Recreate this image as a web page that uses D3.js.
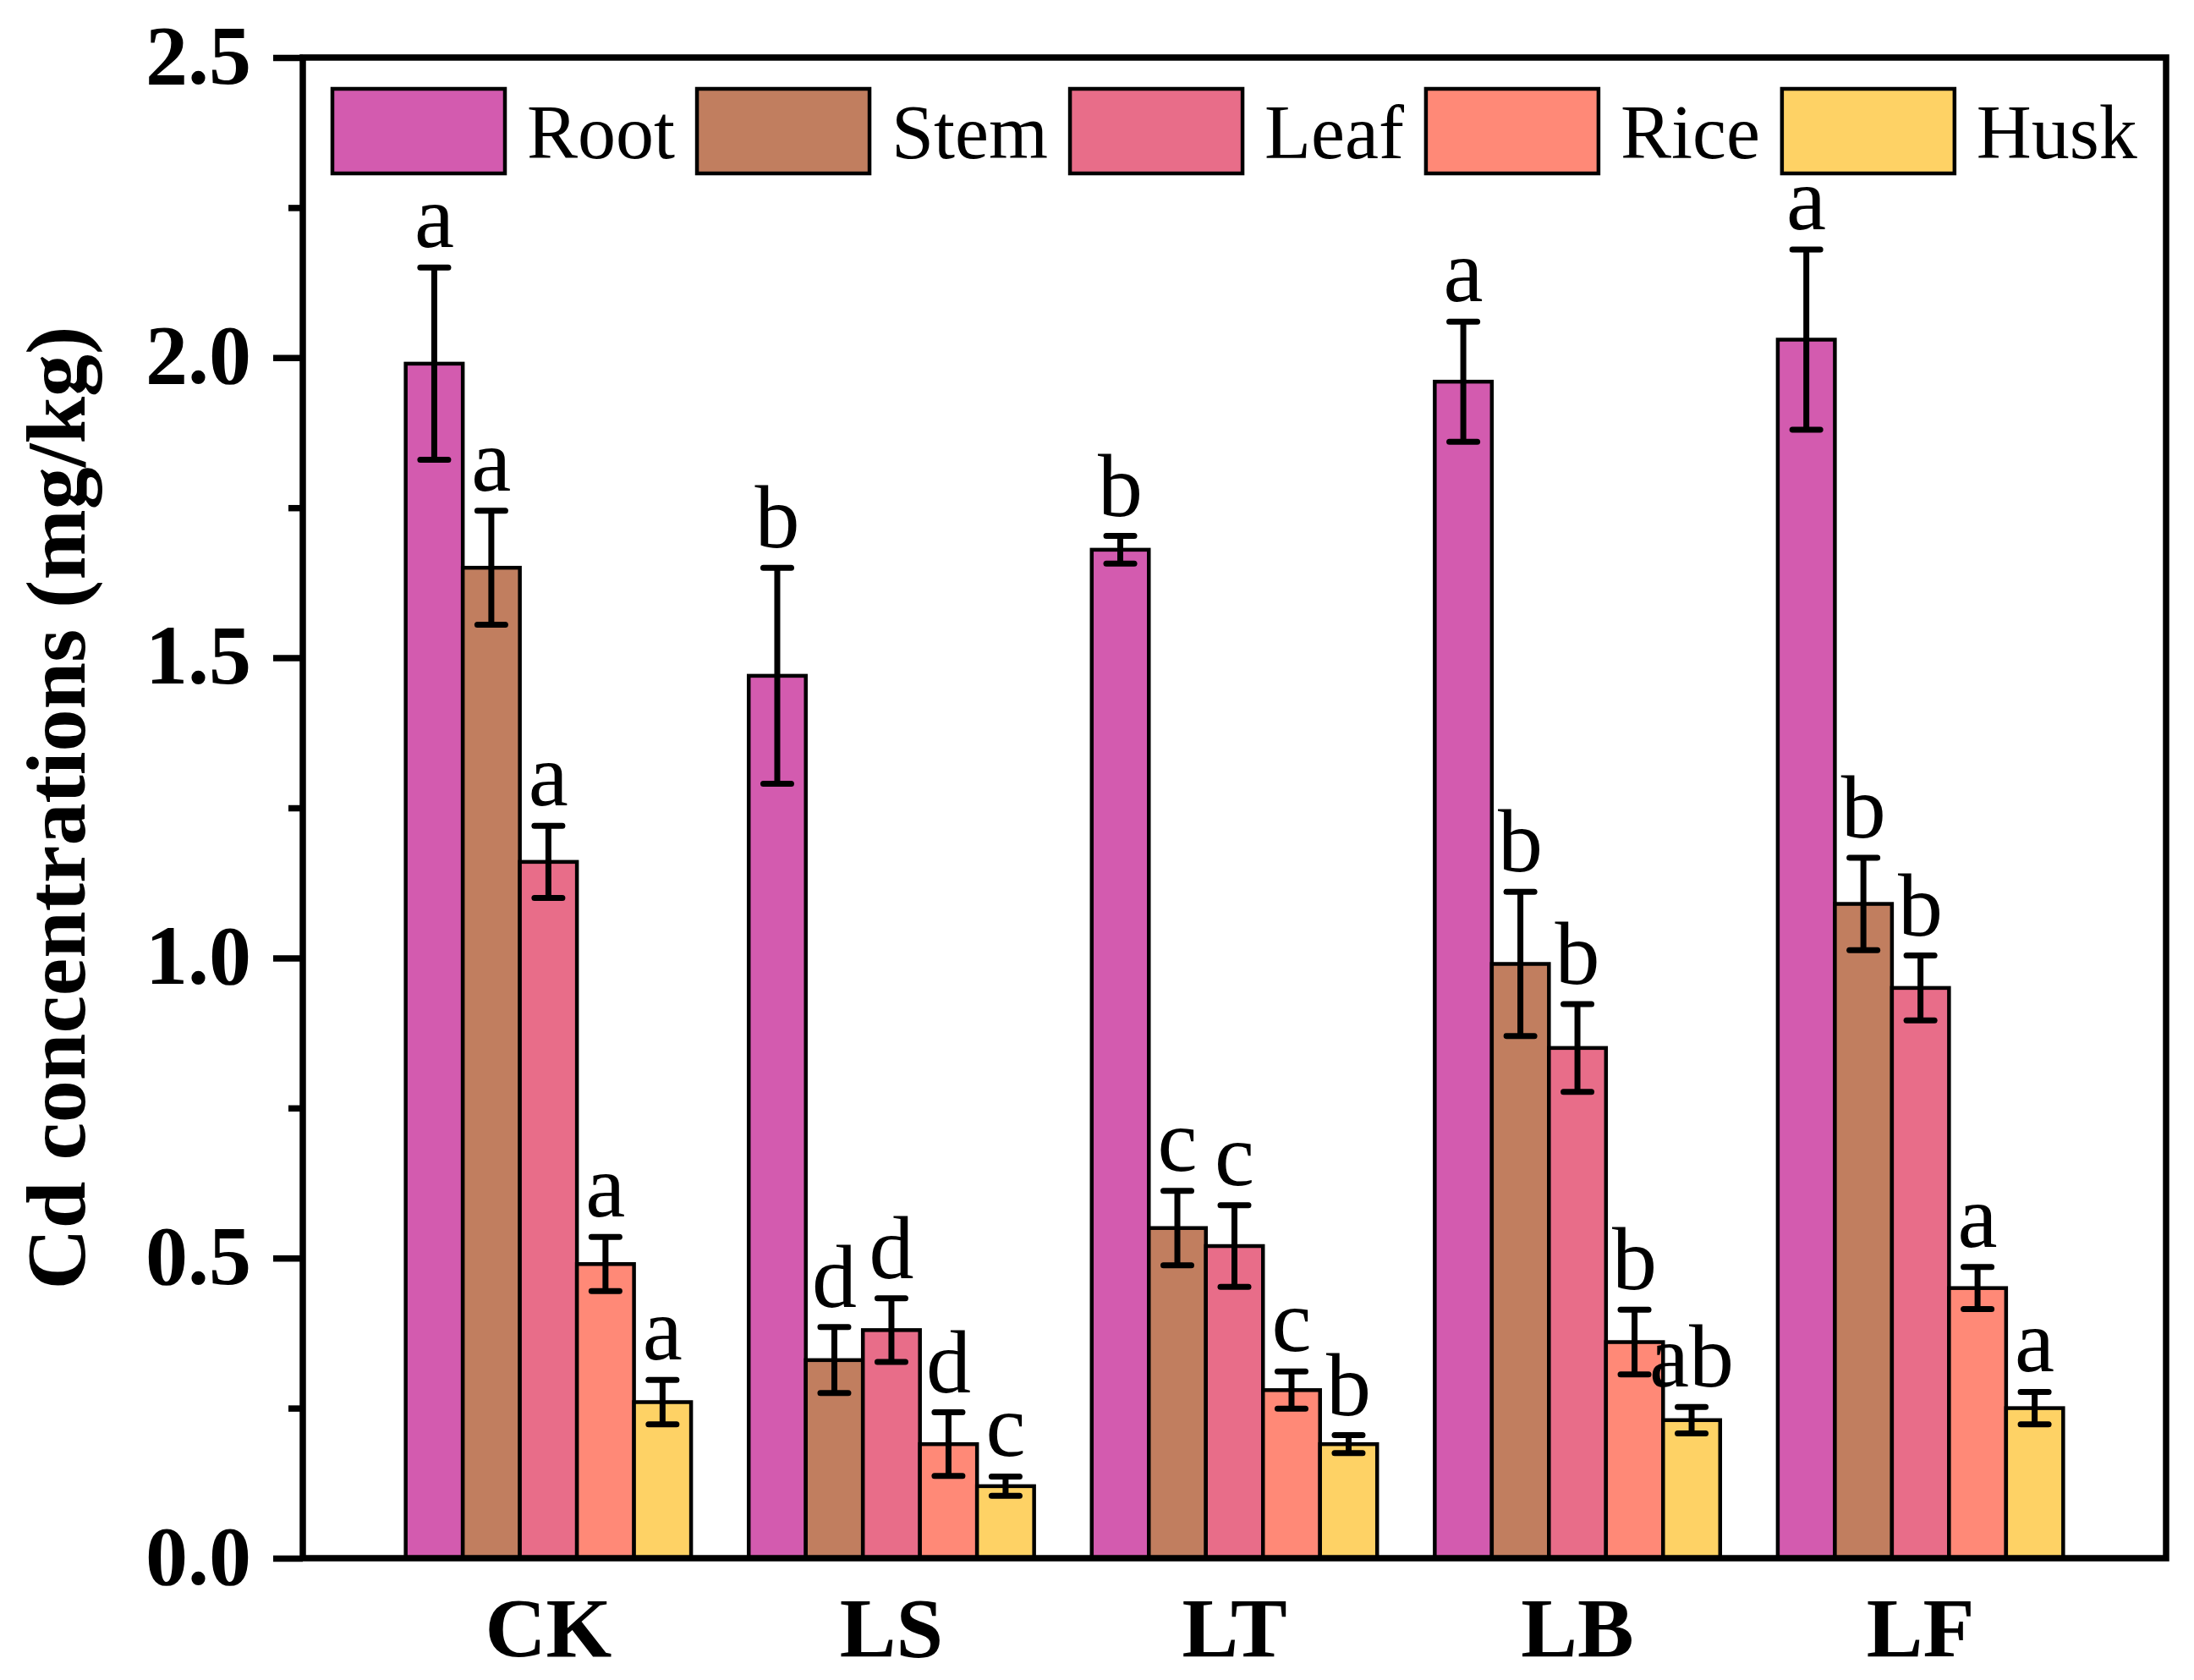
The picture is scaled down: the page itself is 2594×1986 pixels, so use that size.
<!DOCTYPE html>
<html>
<head>
<meta charset="utf-8">
<script src="https://cdn.jsdelivr.net/npm/d3@7"></script>
<style>
  html, body { margin: 0; padding: 0; background: #fff; }
  svg { display: block; }
</style>
</head>
<body>
<svg id="chart" width="2594" height="1986"></svg>
<script>
// ---------- data ----------
const groups = ["CK", "LS", "LT", "LB", "LF"];
const series = ["Root", "Stem", "Leaf", "Rice", "Husk"];
const seriesColors = ["#D35BAF", "#C17E5F", "#E86D89", "#FF8977", "#FED265"];

const rootMean = [1.99, 1.47, 1.68, 1.96, 2.03];
const stemMean = [1.65, 0.33, 0.55, 0.99, 1.09];
const leafMean = [1.16, 0.38, 0.52, 0.85, 0.95];
const riceMean = [0.49, 0.19, 0.28, 0.36, 0.45];
const huskMean = [0.26, 0.12, 0.19, 0.23, 0.25];

const rootErr = [0.16, 0.18, 0.023, 0.10, 0.15];
const stemErr = [0.095, 0.055, 0.062, 0.12, 0.077];
const leafErr = [0.06, 0.053, 0.068, 0.073, 0.054];
const riceErr = [0.045, 0.053, 0.031, 0.054, 0.035];
const huskErr = [0.037, 0.016, 0.015, 0.022, 0.027];

const rootLetters = ["a", "b", "b", "a", "a"];
const stemLetters = ["a", "d", "c", "b", "b"];
const leafLetters = ["a", "d", "c", "b", "b"];
const riceLetters = ["a", "d", "c", "b", "a"];
const huskLetters = ["a", "c", "b", "ab", "a"];

const yTickValues = [0, 0.5, 1.0, 1.5, 2.0, 2.5];
const yTickLabels = ["0.0", "0.5", "1.0", "1.5", "2.0", "2.5"];
const yMinorValues = [0.25, 0.75, 1.25, 1.75, 2.25];
const yTitle = "Cd concentrations (mg/kg)";

const means = [rootMean, stemMean, leafMean, riceMean, huskMean];
const errs = [rootErr, stemErr, leafErr, riceErr, huskErr];
const letters = [rootLetters, stemLetters, leafLetters, riceLetters, huskLetters];

// ---------- layout ----------
const svg = d3.select("#chart");
const plotLeft = 358, plotRight = 2561, plotTop = 68, plotBottom = 1842;
const serif = "'Liberation Serif', 'Times New Roman', Times, serif";

const x0 = d3.scaleBand().domain(groups).range([plotLeft, plotRight])
  .paddingInner(0.168).paddingOuter(0.3);
const x1 = d3.scaleBand().domain(series).range([0, x0.bandwidth()]);
const y = d3.scaleLinear().domain([0, 2.5]).range([plotBottom, plotTop]);

const records = [];
groups.forEach((g, gi) => {
  series.forEach((s, si) => {
    records.push({ g, s, si, mean: means[si][gi], err: errs[si][gi], letter: letters[si][gi] });
  });
});

// bars
const gBars = svg.append("g");
gBars.selectAll("rect").data(records).join("rect")
  .attr("x", d => x0(d.g) + x1(d.s))
  .attr("y", d => y(d.mean))
  .attr("width", x1.bandwidth())
  .attr("height", d => y(0) - y(d.mean))
  .attr("fill", d => seriesColors[d.si])
  .attr("stroke", "#000")
  .attr("stroke-width", 4.5);

// error bars
const cx = d => x0(d.g) + x1(d.s) + x1.bandwidth() / 2;
const gErr = svg.append("g").attr("stroke", "#000").attr("stroke-width", 7);
gErr.selectAll("line.v").data(records).join("line").attr("class", "v")
  .attr("x1", cx).attr("x2", cx)
  .attr("y1", d => y(d.mean + d.err)).attr("y2", d => y(d.mean - d.err));
["capTop", "capBot"].forEach(k => {
  gErr.selectAll("line." + k).data(records).join("line").attr("class", k)
    .attr("stroke-linecap", "round")
    .attr("x1", d => cx(d) - 16.5).attr("x2", d => cx(d) + 16.5)
    .attr("y1", d => y(k === "capTop" ? d.mean + d.err : d.mean - d.err))
    .attr("y2", d => y(k === "capTop" ? d.mean + d.err : d.mean - d.err));
});

// significance letters
svg.append("g").selectAll("text").data(records).join("text")
  .attr("x", cx)
  .attr("y", d => y(d.mean + d.err) - 24)
  .attr("text-anchor", "middle")
  .attr("font-family", serif)
  .attr("font-size", 106)
  .attr("fill", "#000")
  .text(d => d.letter);

// frame
svg.append("rect")
  .attr("x", plotLeft).attr("y", plotTop)
  .attr("width", plotRight - plotLeft).attr("height", plotBottom - plotTop)
  .attr("fill", "none").attr("stroke", "#000").attr("stroke-width", 7.5);

// y axis
const yAxis = d3.axisLeft(y).tickValues(yTickValues)
  .tickFormat((d, i) => yTickLabels[i]).tickSize(35).tickPadding(26);
const gy = svg.append("g").attr("transform", `translate(${plotLeft},0)`).call(yAxis);
gy.select(".domain").remove();
gy.selectAll(".tick line").attr("stroke", "#000").attr("stroke-width", 7.5);
gy.selectAll(".tick text")
  .attr("font-family", serif).attr("font-weight", "bold")
  .attr("font-size", 100).attr("fill", "#000").attr("dy", "0.30em");

const yMinor = d3.axisLeft(y).tickValues(yMinorValues).tickFormat("").tickSize(17);
const gym = svg.append("g").attr("transform", `translate(${plotLeft},0)`).call(yMinor);
gym.select(".domain").remove();
gym.selectAll(".tick line").attr("stroke", "#000").attr("stroke-width", 7.5);

// x axis labels
const xAxis = d3.axisBottom(x0).tickSize(0).tickPadding(45);
const gx = svg.append("g").attr("transform", `translate(0,${plotBottom})`).call(xAxis);
gx.select(".domain").remove();
gx.selectAll(".tick text")
  .attr("font-family", serif).attr("font-weight", "bold")
  .attr("font-size", 100).attr("fill", "#000").attr("dy", "0.71em");

// y title
svg.append("text")
  .attr("transform", `translate(100,${(plotTop + plotBottom) / 2}) rotate(-90)`)
  .attr("text-anchor", "middle")
  .attr("font-family", serif).attr("font-weight", "bold")
  .attr("font-size", 100).attr("fill", "#000")
  .text(yTitle);

// legend
const gLeg = svg.append("g");
let lx = 393;
series.forEach((s, i) => {
  gLeg.append("rect")
    .attr("x", lx).attr("y", 105).attr("width", 204).attr("height", 100)
    .attr("fill", seriesColors[i]).attr("stroke", "#000").attr("stroke-width", 4.5);
  const t = gLeg.append("text")
    .attr("x", lx + 204 + 26).attr("y", 187)
    .attr("font-family", serif).attr("font-size", 90).attr("fill", "#000")
    .text(s);
  lx = lx + 204 + 26 + t.node().getComputedTextLength() + 26;
});
</script>
</body>
</html>
